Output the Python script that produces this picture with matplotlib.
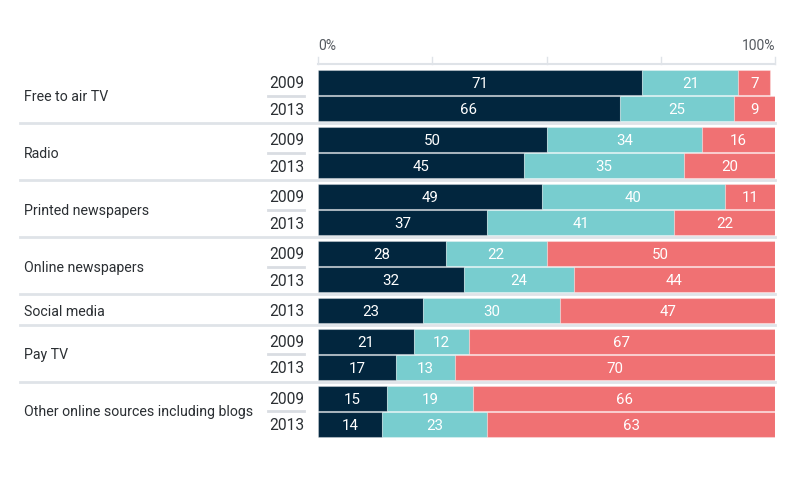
import numpy as np
import matplotlib.pyplot as plt

# data
categories = ["Free to air TV", "Radio", "Printed newspapers", "Online newspapers",
              "Social media", "Pay TV", "Other online sources including blogs"]
years = [["2009", "2013"], ["2009", "2013"], ["2009", "2013"], ["2009", "2013"],
         ["2013"], ["2009", "2013"], ["2009", "2013"]]
first = [[71, 66], [50, 45], [49, 37], [28, 32], [23], [21, 17], [15, 14]]
second = [[21, 25], [34, 35], [40, 41], [22, 24], [30], [12, 13], [19, 23]]
third = [[7, 9], [16, 20], [11, 22], [50, 44], [47], [67, 70], [66, 63]]
ticks = [0, 25, 50, 75, 100]

colors = ["#02263e", "#78cdcf", "#f07173"]
W, H = 800, 485
fig = plt.figure(figsize=(W / 100, H / 100), dpi=100)
x0, x1 = 318, 775
ax = fig.add_axes([x0 / W, 0, (x1 - x0) / W, 1])
ax.set_xlim(0, 100)
ax.set_ylim(H, 0)
ax.axis("off")

px = 100 / (x1 - x0)  # data units per pixel in x
pitch, bar_h, gap = 26.2, 25, 4.6
y = 71
font = ["Roboto", "DejaVu Sans"]
txt = "#2b2f33"

for i, cat in enumerate(categories):
    n = len(years[i])
    top = y
    for j in range(n):
        vals = [first[i][j], second[i][j], third[i][j]]
        left = 0
        for k, v in enumerate(vals):
            ax.barh(y + bar_h / 2, v, height=bar_h, left=left, color=colors[k],
                    edgecolor=(1, 1, 1, 0.3), linewidth=0.8)
            ax.text(left + v / 2, y + bar_h / 2 + 0.5, str(v), color="white",
                    ha="center", va="center", fontsize=10.8, family=font)
            left += v
        ax.text(-14 * px, y + bar_h / 2 + 0.5, years[i][j], color=txt,
                ha="right", va="center", fontsize=11.2, family=font, clip_on=False)
        if j < n - 1:
            ax.plot([-50 * px, -14 * px], [y + pitch - 0.5] * 2, color="#d9dde2",
                    lw=2, clip_on=False)
        y += pitch
    mid = top + (n * pitch - 1) / 2
    ax.text(-294 * px, mid, cat, color=txt, ha="left", va="center",
            fontsize=10.2, family=font, clip_on=False)
    if i < len(categories) - 1:
        ax.plot([-298 * px, 100], [y + 0.8] * 2, color="#dfe3e8", lw=2,
                clip_on=False)
        y += gap

# top axis
ax.plot([0, 100], [64.5, 64.5], color="#dfe3e8", lw=1.5, clip_on=False)
for t in ticks:
    ax.plot([t, t], [58, 64.5], color="#dfe3e8", lw=1, clip_on=False)
ax.text(0, 53, "0%", ha="left", va="bottom", fontsize=10, color="#555a60",
        family=font)
ax.text(100, 53, "100%", ha="right", va="bottom", fontsize=10, color="#555a60",
        family=font)

fig.savefig("out.png", dpi=100)
